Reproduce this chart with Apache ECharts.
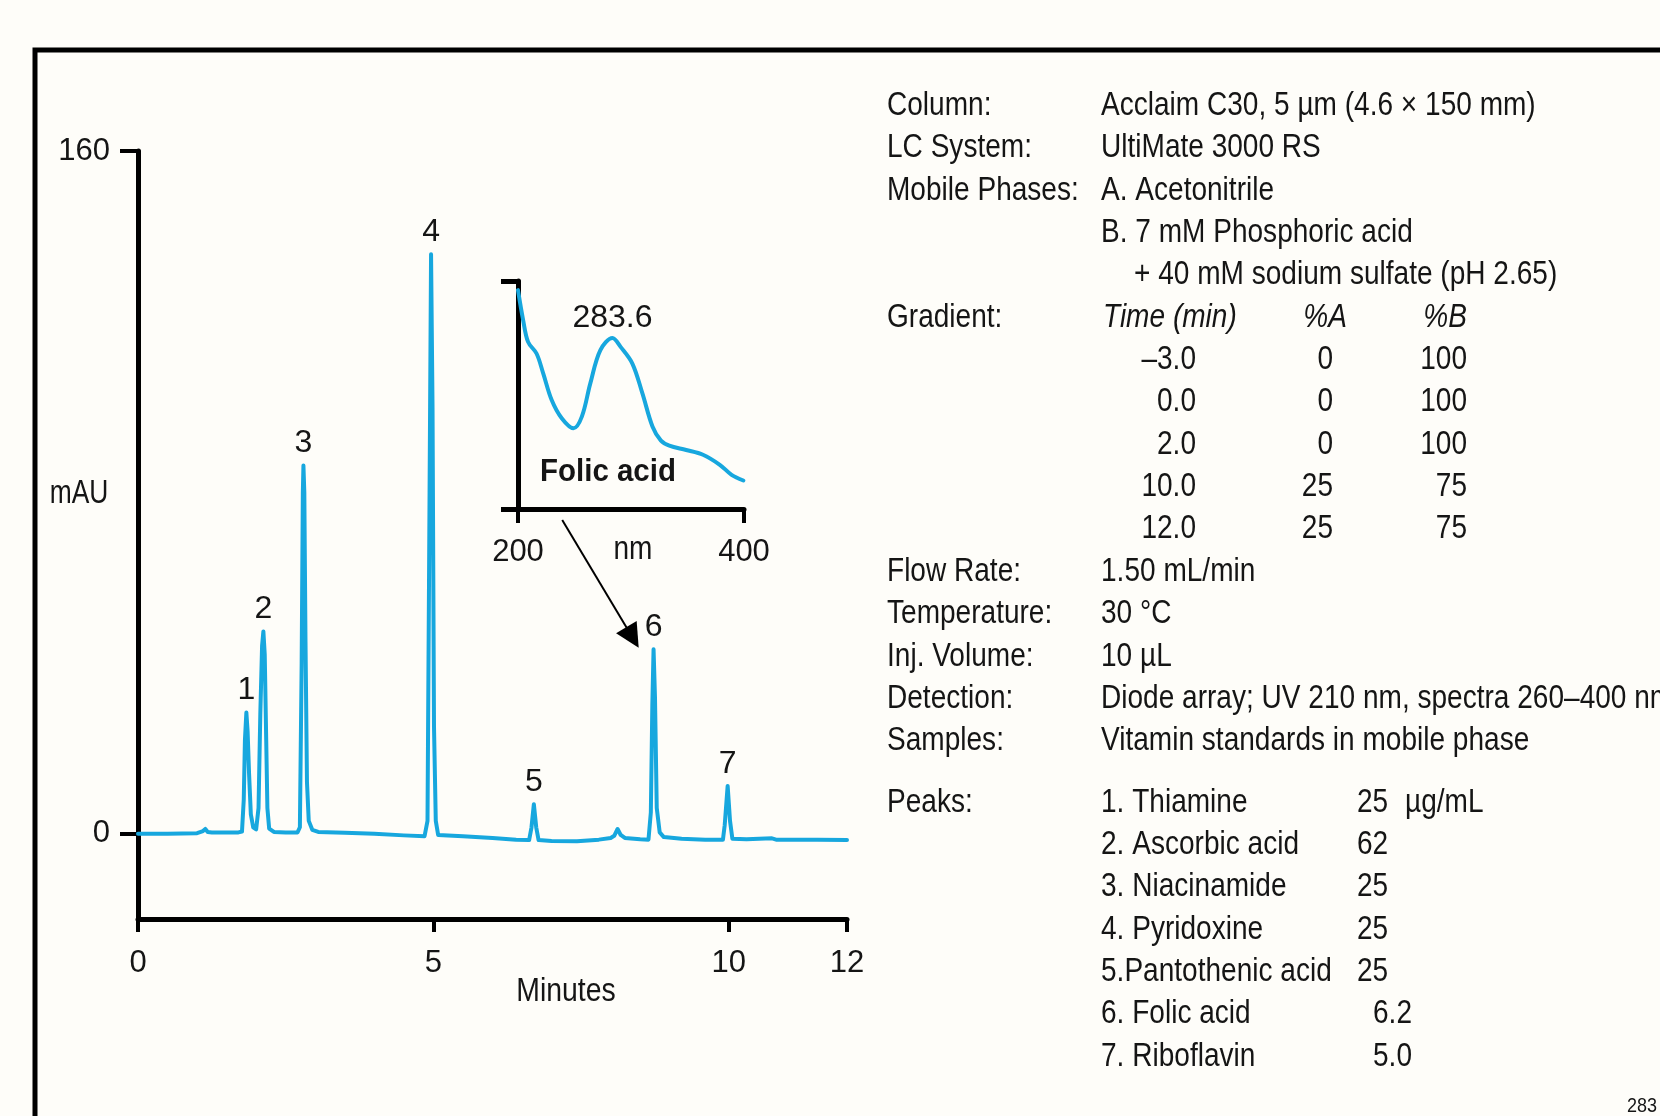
<!DOCTYPE html>
<html>
<head>
<meta charset="utf-8">
<script src="https://cdn.jsdelivr.net/npm/echarts@6/dist/echarts.min.js"></script>
<style>
html,body{margin:0;padding:0;background:#fefdf9;}
#chart{width:1660px;height:1116px;}
</style>
</head>
<body>
<div id="chart"></div>
<script>
// ---------------- data ----------------
const chromTime = [0.00,0.50,1.00,1.10,1.14,1.18,1.25,1.50,1.70,1.76,1.79,1.81,1.834,1.855,1.88,1.91,1.95,2.00,2.04,2.07,2.10,2.122,2.145,2.17,2.19,2.22,2.30,2.50,2.70,2.74,2.77,2.79,2.80,2.815,2.835,2.86,2.89,2.95,3.05,3.50,4.00,4.50,4.85,4.90,4.935,4.96,4.985,5.01,5.04,5.08,5.50,6.00,6.40,6.62,6.66,6.70,6.74,6.78,7.00,7.43,7.80,8.00,8.06,8.117,8.17,8.24,8.50,8.64,8.68,8.705,8.726,8.75,8.78,8.83,8.90,9.20,9.60,9.90,9.93,9.98,10.02,10.06,10.30,10.73,10.80,11.50,12.00];
const chromSignal = [0.0,0.0,0.1,0.6,1.1,0.4,0.3,0.3,0.3,0.5,8,22,28.4,24,14,4.5,1.5,1.0,6,28,44,47.4,42,22,6,1.2,0.4,0.3,0.3,1.5,40,80,86.3,80,45,12,3,0.9,0.4,0.2,0.0,-0.4,-0.6,3,80,135.8,100,25,3,-0.3,-0.6,-1.0,-1.4,-1.5,1.5,6.9,1.5,-1.5,-1.7,-1.8,-1.4,-1.0,-0.5,1.1,-0.3,-1.0,-1.3,-1.4,5,30,43.2,32,6,0.3,-0.8,-1.2,-1.4,-1.4,2,11.2,3,-1.2,-1.3,-1.1,-1.4,-1.4,-1.5];

const peakNumbers = ['1','2','3','4','5','6','7'];
const peakTimes   = [1.834, 2.122, 2.80, 4.96, 6.70, 8.726, 9.98];
const peakHeights = [28.4, 47.4, 86.3, 135.8, 6.9, 43.2, 11.2];

const xTickValues = [0, 5, 10, 12];
const yTickValues = [0, 160];

// arrow from the inset spectrum to peak 6 (minutes, mAU)
const arrowFrom = [7.18, 73.5];
const arrowTo   = [8.37, 46.0];

// inset UV spectrum of folic acid
const specWavelength = [200,204.5,208.9,216.4,222.3,229.8,238.7,249.1,256.5,264,272.9,283.6,290.8,301.2,310.1,319,326.5,333.9,348.8,363.7,378.6,389,399.4];
const specAbsorbance = [0.96,0.83,0.733,0.682,0.595,0.478,0.398,0.354,0.405,0.551,0.697,0.75,0.711,0.638,0.507,0.362,0.300,0.278,0.259,0.238,0.194,0.150,0.125];
const specTickValues = [200, 400];
const specMaxLabel = '283.6';

// conditions panel text
const condLabels = ['Column:','LC System:','Mobile Phases:','','','Gradient:','','','','','','Flow Rate:','Temperature:','Inj. Volume:','Detection:','Samples:'];
const condValues = ['Acclaim C30, 5 µm (4.6 × 150 mm)','UltiMate 3000 RS','A. Acetonitrile','B. 7 mM Phosphoric acid','','','','','','','','1.50 mL/min','30 °C','10 µL','Diode array; UV 210 nm, spectra 260–400 nm','Vitamin standards in mobile phase'];
const condIndent = '+ 40 mM sodium sulfate (pH 2.65)';
const gradHeader = ['Time (min)', '%A', '%B'];
const gradTime = ['–3.0','0.0','2.0','10.0','12.0'];
const gradA = ['0','0','0','25','25'];
const gradB = ['100','100','100','75','75'];
const peakNames = ['1. Thiamine','2. Ascorbic acid','3. Niacinamide','4. Pyridoxine','5.Pantothenic acid','6. Folic acid','7. Riboflavin'];
const peakConc = ['25','62','25','25','25','6.2','5.0'];
const concUnit = 'µg/mL';

// ---------------- chart ----------------
const FONT = "'Liberation Sans',Arial,sans-serif";
const INK = '#151515';
const LINE = '#17a7de';
const chart = echarts.init(document.getElementById('chart'), null, {renderer: 'canvas'});

const graphics = [];
graphics.push({type:'rect', shape:{x:35, y:50, width:1700, height:1200}, style:{fill:'none', stroke:'#000', lineWidth:5}, silent:true});
function txt(x, y, s, opt) {
  opt = opt || {};
  graphics.push({type:'text', x:x, y:y, scaleX:(opt.sx||0.85), silent:true, style:{
    text:s, fill:INK, align:opt.align||'left', verticalAlign:'middle',
    font:(opt.style||'normal')+' '+(opt.weight||'normal')+' '+(opt.size||33)+'px '+FONT}});
}
const ROW0 = 105.9, ROWH = 42.35, LX = 887, VX = 1101;
condLabels.forEach((s,i)=>{ if (s) txt(LX, ROW0+i*ROWH, s); });
condValues.forEach((s,i)=>{ if (s) txt(VX, ROW0+i*ROWH, s); });
txt(1134, ROW0+4*ROWH, condIndent);
txt(1103, ROW0+5*ROWH, gradHeader[0], {style:'italic'});
txt(1347, ROW0+5*ROWH, gradHeader[1], {style:'italic', align:'right'});
txt(1467, ROW0+5*ROWH, gradHeader[2], {style:'italic', align:'right'});
gradTime.forEach((s,i)=>{
  txt(1196, ROW0+(6+i)*ROWH, s, {align:'right'});
  txt(1333, ROW0+(6+i)*ROWH, gradA[i], {align:'right'});
  txt(1467, ROW0+(6+i)*ROWH, gradB[i], {align:'right'});
});
const PK0 = 802.5;
txt(LX, PK0, 'Peaks:');
peakNames.forEach((s,i)=>{
  txt(VX, PK0+i*ROWH, s);
  txt(peakConc[i].indexOf('.')>=0 ? 1373 : 1357, PK0+i*ROWH, peakConc[i]);
});
txt(1405, PK0, concUnit);
txt(79, 494, 'mAU', {align:'center', sx:0.8});
txt(566, 992, 'Minutes', {align:'center', sx:0.86});
txt(608, 472, 'Folic acid', {align:'center', weight:'bold', size:31, sx:0.95});
txt(633, 550, 'nm', {align:'center', sx:0.85});
txt(1627, 1106, '283', {size:20, sx:0.9});

const axisLineStyle = {color:'#000', width:5};
const labelBase = {fontFamily:FONT, color:INK};
const option = {
  backgroundColor:'#fefdf9',
  animation:false,
  grid:[
    {left:138, top:151, width:709, height:768},
    {left:518, top:281, width:226, height:228}
  ],
  xAxis:[
    {gridIndex:0, type:'value', min:0, max:12, interval:1,
     axisLine:{show:true, onZero:false, lineStyle:axisLineStyle},
     axisTick:{show:true, inside:false, length:13, lineStyle:{color:'#000', width:4}, customValues:xTickValues},
     axisLabel:Object.assign({show:true, margin:29, fontSize:31, customValues:xTickValues}, labelBase),
     splitLine:{show:false}},
    {gridIndex:1, type:'value', min:200, max:400, interval:100,
     axisLine:{show:true, onZero:false, lineStyle:axisLineStyle},
     axisTick:{show:true, length:14, lineStyle:{color:'#000', width:4}, customValues:specTickValues},
     axisLabel:Object.assign({show:true, margin:28, fontSize:31, customValues:specTickValues}, labelBase),
     splitLine:{show:false}}
  ],
  yAxis:[
    {gridIndex:0, type:'value', min:-20, max:160, interval:20,
     axisLine:{show:true, onZero:false, lineStyle:axisLineStyle},
     axisTick:{show:true, length:18, lineStyle:{color:'#000', width:4}, customValues:yTickValues},
     axisLabel:Object.assign({show:true, margin:28, fontSize:31, customValues:yTickValues}, labelBase),
     splitLine:{show:false}},
    {gridIndex:1, type:'value', min:0, max:1, interval:0.5,
     axisLine:{show:true, onZero:false, lineStyle:axisLineStyle},
     axisTick:{show:true, length:17, lineStyle:{color:'#000', width:5}, customValues:[0,1]},
     axisLabel:{show:false},
     splitLine:{show:false}}
  ],
  series:[
    {type:'line', xAxisIndex:0, yAxisIndex:0, showSymbol:false, symbol:'none',
     data:chromTime.map((t,i)=>[t, chromSignal[i]]),
     lineStyle:{color:LINE, width:4, cap:'round', join:'round'}, z:3},
    {type:'scatter', xAxisIndex:0, yAxisIndex:0, symbolSize:0, itemStyle:{opacity:1},
     data:peakTimes.map((t,i)=>[t, peakHeights[i], peakNumbers[i]]),
     label:Object.assign({show:true, position:'top', distance:6, fontSize:32,
            formatter:p=>p.value[2]}, labelBase), z:4},
    {type:'line', xAxisIndex:0, yAxisIndex:0, data:[],
     markLine:{silent:true, symbol:['none','triangle'], symbolSize:24, animation:false,
       lineStyle:{color:'#000', width:2, type:'solid'}, itemStyle:{color:'#000'},
       label:{show:false},
       data:[[{coord:arrowFrom},{coord:arrowTo}]]}},
    {type:'line', xAxisIndex:1, yAxisIndex:1, showSymbol:false, symbol:'none', smooth:0.35,
     data:specWavelength.map((w,i)=>[w, specAbsorbance[i]]),
     lineStyle:{color:LINE, width:4, cap:'round', join:'round'}, z:3},
    {type:'scatter', xAxisIndex:1, yAxisIndex:1, symbolSize:0, itemStyle:{opacity:1},
     data:[[283.6, specAbsorbance[specWavelength.indexOf(283.6)], specMaxLabel]],
     label:Object.assign({show:true, position:'top', distance:4, fontSize:32,
            formatter:p=>p.value[2]}, labelBase)}
  ],
  graphic:graphics
};
chart.setOption(option);
</script>
</body>
</html>
